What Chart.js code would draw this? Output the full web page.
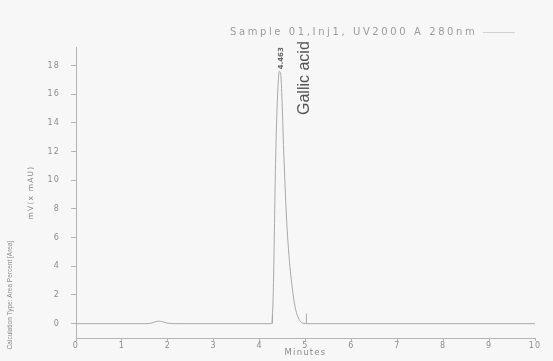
<!DOCTYPE html>
<html>
<head>
<meta charset="utf-8">
<script src="https://cdn.jsdelivr.net/npm/chart.js@4.4.0/dist/chart.umd.min.js"></script>
<style>
  html, body { margin: 0; padding: 0; background: #f7f7f7; }
  #wrap { width: 553px; height: 361px; position: relative; }
</style>
</head>
<body>
<div id="wrap"><canvas id="chromChart"></canvas></div>
<script>
// Datos del cromatograma
const seriesLabel = 'Sample 01,Inj1, UV2000 A 280nm';
const times = [0, 1.5, 1.66, 1.74, 1.82, 1.9, 1.98, 2.2, 4.26, 4.28, 4.30, 4.32, 4.34, 4.37, 4.40, 4.43, 4.46, 4.49, 4.52, 4.55, 4.58, 4.62, 4.66, 4.70, 4.75, 4.80, 4.86, 4.93, 5.05, 10];
const signal = [0, 0, 0.05, 0.15, 0.17, 0.12, 0.04, 0, 0, 0.6, 2.5, 6.0, 10.0, 14.0, 16.5, 17.6, 17.4, 15.5, 12.5, 10.0, 7.8, 5.6, 4.0, 2.8, 1.6, 0.8, 0.3, 0.05, 0, 0];
const markerTimes = [4.28, 5.02];
const markerHeight = 0.7;
const peakTime = 4.463;
const peakValue = 17.6;
const peakName = 'Gallic acid';
const xTicks = [0, 1, 2, 3, 4, 5, 6, 7, 8, 9, 10];
const yTicks = [0, 2, 4, 6, 8, 10, 12, 14, 16, 18];

const lineColor = '#a9a9a9';
const axisColor = '#b5b5b5';
const textColor = '#8c8c8c';

const points = times.map((t, i) => ({ x: t, y: signal[i] }));
const markerSets = markerTimes.map(t => ({
    data: [{ x: t, y: 0 }, { x: t, y: markerHeight }],
    borderColor: lineColor,
    borderWidth: 1,
    pointRadius: 0,
    fill: false
}));

// Plugin: espaciado de letras + textos extra
const extrasPlugin = {
    id: 'extras',
    beforeLayout(chart) { chart.ctx.letterSpacing = '1.2px'; },
    beforeDraw(chart) {
        chart.ctx.letterSpacing = '1.2px';
        const ctx = chart.ctx;
        ctx.save();
        ctx.fillStyle = '#f7f7f7';
        ctx.fillRect(0, 0, chart.width, chart.height);
        ctx.restore();
    },
    afterDraw(chart) {
        const ctx = chart.ctx;
        const xs = chart.scales.x;
        const ys = chart.scales.y;
        ctx.save();

        // leyenda
        ctx.font = '10px "DejaVu Sans"';
        ctx.fillStyle = '#9c9c9c';
        ctx.textBaseline = 'middle';
        ctx.textAlign = 'left';
        ctx.letterSpacing = '2.6px';
        ctx.fillText(seriesLabel, 230, 32);
        ctx.strokeStyle = '#d0d0d0';
        ctx.lineWidth = 1;
        ctx.beginPath();
        ctx.moveTo(483, 32.5);
        ctx.lineTo(515, 32.5);
        ctx.stroke();

        // etiqueta del pico
        const px = xs.getPixelForValue(peakTime);
        const py = ys.getPixelForValue(peakValue);
        ctx.letterSpacing = '0px';
        ctx.save();
        ctx.translate(px, py - 2);
        ctx.rotate(-Math.PI / 2);
        ctx.font = 'bold 7px "DejaVu Sans"';
        ctx.fillStyle = '#666';
        ctx.textAlign = 'left';
        ctx.textBaseline = 'middle';
        ctx.fillText(peakTime.toFixed(3), 0, 0);
        ctx.restore();

        ctx.save();
        ctx.translate(px + 24, 115);
        ctx.rotate(-Math.PI / 2);
        ctx.font = '16px "Liberation Sans"';
        ctx.fillStyle = '#555';
        ctx.textAlign = 'left';
        ctx.textBaseline = 'middle';
        ctx.fillText(peakName, 0, 0);
        ctx.restore();

        // texto lateral
        ctx.save();
        ctx.translate(10, 295);
        ctx.rotate(-Math.PI / 2);
        ctx.font = '6.5px "Liberation Sans"';
        ctx.fillStyle = '#8a8a8a';
        ctx.textAlign = 'center';
        ctx.textBaseline = 'middle';
        ctx.fillText('Calculation Type: Area Percent [Area]', 0, 0);
        ctx.restore();

        ctx.restore();
    }
};

new Chart(document.getElementById('chromChart'), {
    type: 'line',
    data: {
        datasets: [{
            label: seriesLabel,
            data: points,
            borderColor: lineColor,
            borderWidth: 1,
            pointRadius: 0,
            tension: 0.3,
            cubicInterpolationMode: 'monotone',
            fill: false
        }, ...markerSets]
    },
    options: {
        responsive: true,
        maintainAspectRatio: false,
        animation: false,
        devicePixelRatio: 1,
        layout: { padding: { top: 47, right: 18, bottom: 0, left: 0 } },
        plugins: {
            legend: { display: false },
            tooltip: { enabled: false }
        },
        scales: {
            x: {
                type: 'linear',
                min: 0,
                max: 10,
                afterBuildTicks: s => { s.ticks = xTicks.map(v => ({ value: v })); },
                afterFit: s => { s.height = 23; },
                grid: { display: true, drawOnChartArea: false, tickLength: 3, color: axisColor },
                border: { display: true, color: axisColor },
                ticks: {
                    color: textColor,
                    padding: 0,
                    maxRotation: 0,
                    font: { family: 'DejaVu Sans', size: 8 }
                },
                title: {
                    display: true,
                    text: 'Minutes',
                    color: textColor,
                    padding: { top: 0, bottom: 3 },
                    font: { family: 'DejaVu Sans', size: 8.5 }
                }
            },
            y: {
                type: 'linear',
                min: -1,
                max: 19.3,
                afterBuildTicks: s => { s.ticks = yTicks.map(v => ({ value: v })); },
                afterFit: s => { s.width = 76; },
                grid: { display: true, drawOnChartArea: false, tickLength: 5, color: axisColor },
                border: { display: true, color: axisColor },
                ticks: {
                    color: textColor,
                    padding: 11,
                    font: { family: 'DejaVu Sans', size: 8 }
                },
                title: {
                    display: true,
                    text: 'mV(x mAU)',
                    color: '#888',
                    padding: { top: 27, bottom: 0 },
                    font: { family: 'DejaVu Sans', size: 7.5 }
                }
            }
        }
    },
    plugins: [extrasPlugin]
});
</script>
</body>
</html>
